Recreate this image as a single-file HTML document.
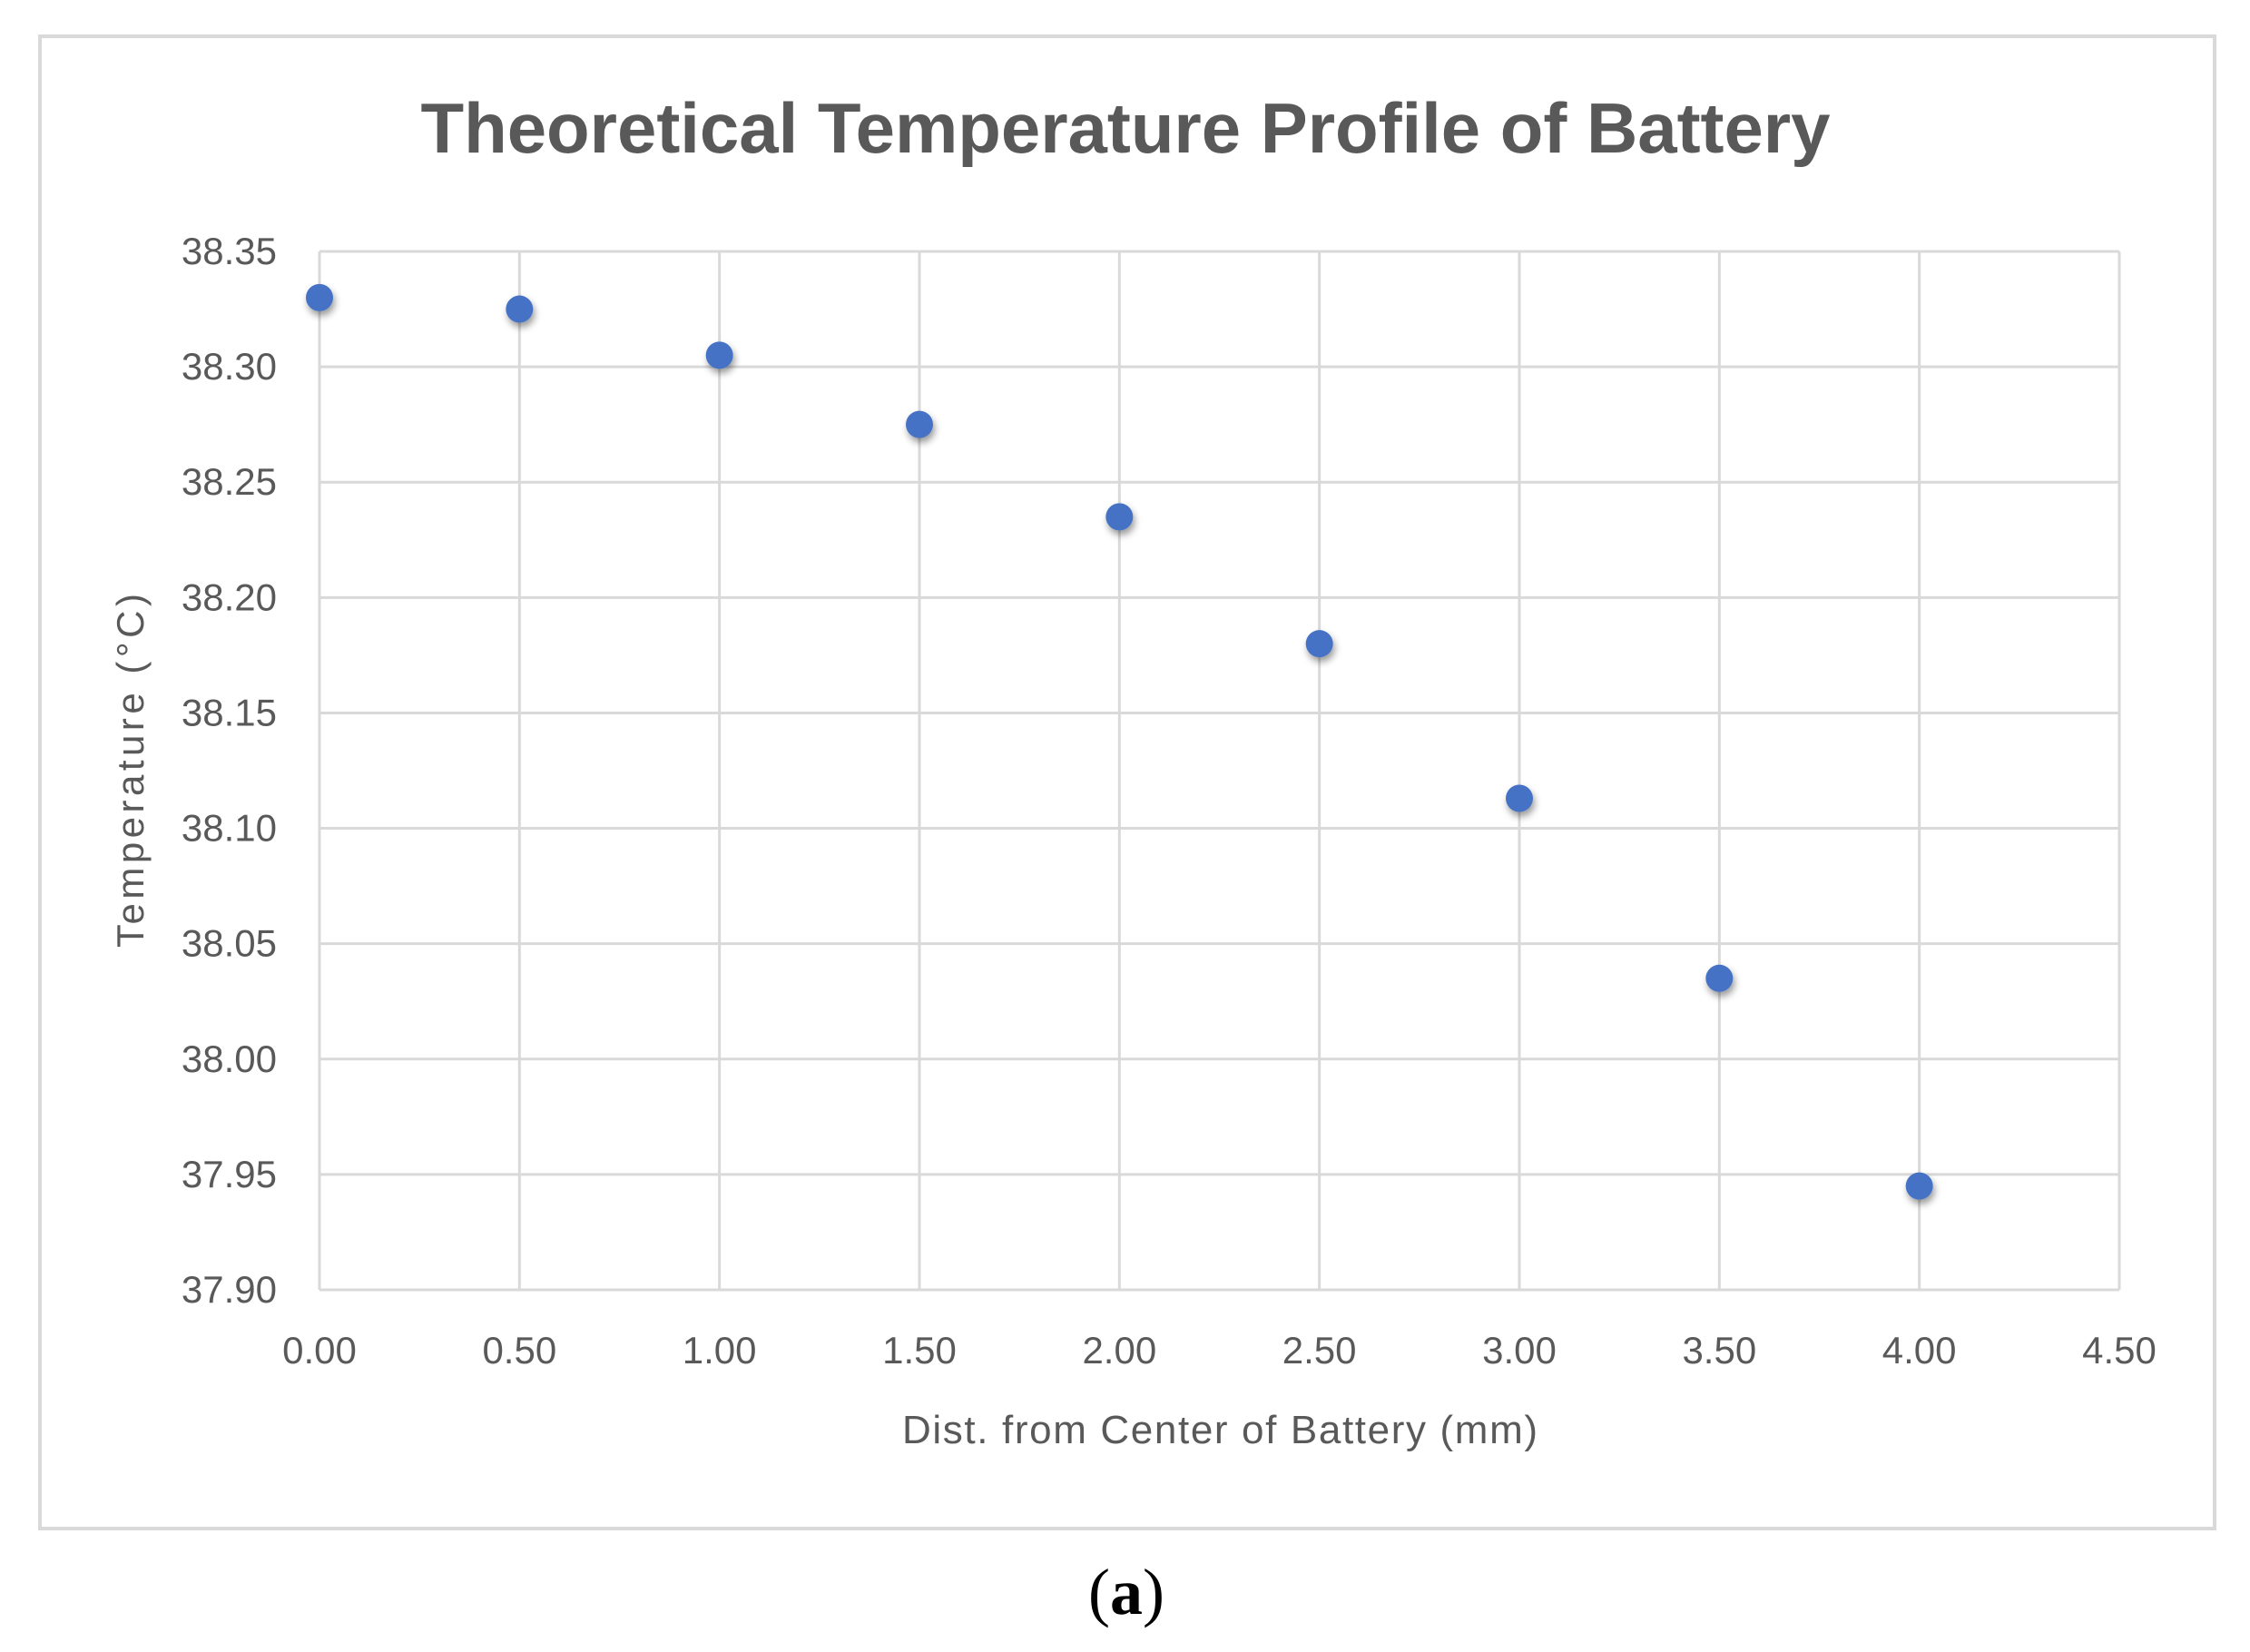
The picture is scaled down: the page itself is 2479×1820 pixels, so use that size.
<!DOCTYPE html>
<html><head><meta charset="utf-8"><style>
body{margin:0;background:#fff}
svg{display:block}
text{font-family:"Liberation Sans",sans-serif}
</style></head><body>
<svg id="chart" width="2479" height="1820" viewBox="0 0 2479 1820">
<defs><filter id="sh" x="-50%" y="-50%" width="200%" height="200%"><feDropShadow dx="2" dy="5" stdDeviation="4" flood-color="#000" flood-opacity="0.4"/></filter></defs>
<rect x="44" y="40" width="2396" height="1644" fill="#fff" stroke="#d9d9d9" stroke-width="4"/>
<text x="1240" y="168" text-anchor="middle" font-size="78" font-weight="bold" fill="#595959" textLength="1553">Theoretical Temperature Profile of Battery</text>
<g id="grid"></g><g id="ticks"></g><g id="pts"></g>
<text x="1344" y="1590" text-anchor="middle" font-size="44" fill="#595959" textLength="700">Dist. from Center of Battery (mm)</text>
<text transform="translate(158,849) rotate(-90)" text-anchor="middle" font-size="42" fill="#595959" textLength="390">Temperature (°C)</text>
<text x="1241" y="1778" text-anchor="middle" font-size="72" fill="#000" style="font-family:'Liberation Serif',serif">(<tspan font-weight="bold">a</tspan>)</text>
</svg>
<script>
const xValues=[0,0.5,1,1.5,2,2.5,3,3.5,4];
const yValues=[38.33,38.325,38.305,38.275,38.235,38.18,38.113,38.035,37.945];
const xTicks=[0,0.5,1,1.5,2,2.5,3,3.5,4,4.5];
const yTicks=[37.90,37.95,38.00,38.05,38.10,38.15,38.20,38.25,38.30,38.35];
const L=352,R=2335,T=277,B=1421,xMin=0,xMax=4.5,yMin=37.9,yMax=38.35;
const sx=v=>L+(v-xMin)/(xMax-xMin)*(R-L);
const sy=v=>B-(v-yMin)/(yMax-yMin)*(B-T);
const NS='http://www.w3.org/2000/svg';
function mk(tag,attrs,parent){const e=document.createElementNS(NS,tag);for(const k in attrs)e.setAttribute(k,attrs[k]);document.getElementById(parent).appendChild(e);return e;}
xTicks.forEach(v=>{
  const l=mk('line',{x1:sx(v),x2:sx(v),y1:T,y2:B,stroke:'#d9d9d9','stroke-width':3},'grid');
  
  
  const t=mk('text',{x:sx(v),y:1502,'text-anchor':'middle','font-size':42,fill:'#595959'},'ticks');
  t.textContent=v.toFixed(2);
  
  
});
yTicks.forEach(v=>{
  const l=mk('line',{x1:L,x2:R,y1:sy(v),y2:sy(v),stroke:'#d9d9d9','stroke-width':3},'grid');
  
  
  const t=mk('text',{x:305,y:sy(v)+14,'text-anchor':'end','font-size':42,fill:'#595959'},'ticks');
  t.textContent=v.toFixed(2);
  
  
});
xValues.forEach((x,i)=>{
  const c=mk('circle',{cx:sx(x),cy:sy(yValues[i]),r:15,fill:'#4472c4',filter:'url(#sh)'},'pts');
  
  
});
</script>
</body></html>
